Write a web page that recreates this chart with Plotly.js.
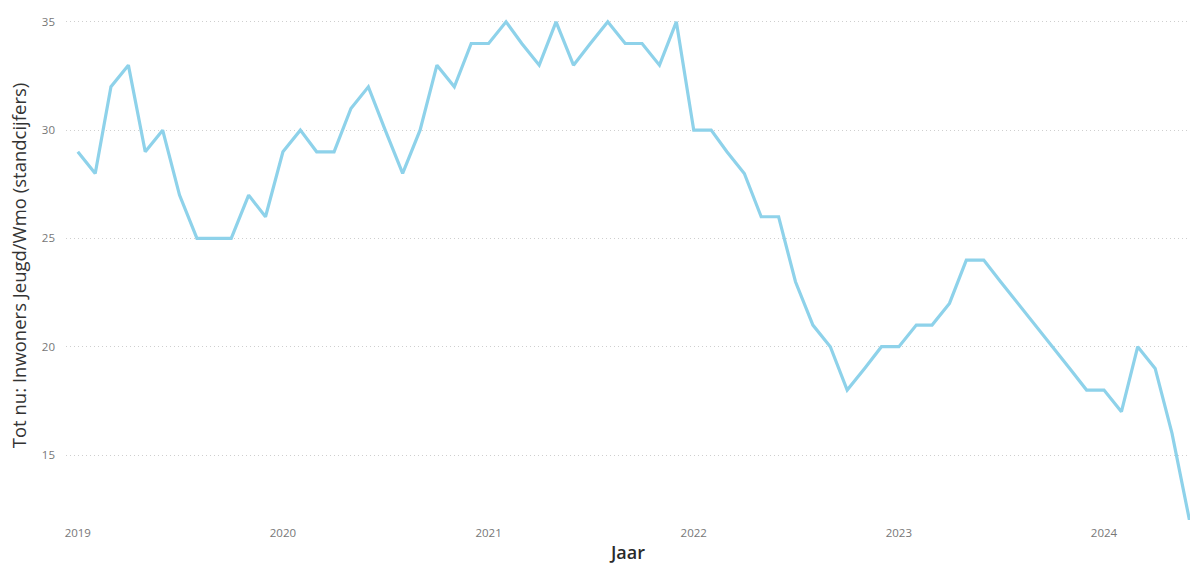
<!DOCTYPE html>
<html>
<head>
<meta charset="utf-8">
<script src="https://cdn.plot.ly/plotly-3.0.1.min.js"></script>
<style>
html,body{margin:0;padding:0;background:#fff;}
#chart{width:1190px;height:564px;}
</style>
</head>
<body>
<div id="chart"></div>
<script>
// Months: January 2019 .. June 2024
const months = [
  "2019-01-01","2019-02-01","2019-03-01","2019-04-01","2019-05-01","2019-06-01","2019-07-01","2019-08-01","2019-09-01","2019-10-01","2019-11-01","2019-12-01",
  "2020-01-01","2020-02-01","2020-03-01","2020-04-01","2020-05-01","2020-06-01","2020-07-01","2020-08-01","2020-09-01","2020-10-01","2020-11-01","2020-12-01",
  "2021-01-01","2021-02-01","2021-03-01","2021-04-01","2021-05-01","2021-06-01","2021-07-01","2021-08-01","2021-09-01","2021-10-01","2021-11-01","2021-12-01",
  "2022-01-01","2022-02-01","2022-03-01","2022-04-01","2022-05-01","2022-06-01","2022-07-01","2022-08-01","2022-09-01","2022-10-01","2022-11-01","2022-12-01",
  "2023-01-01","2023-02-01","2023-03-01","2023-04-01","2023-05-01","2023-06-01","2023-07-01","2023-08-01","2023-09-01","2023-10-01","2023-11-01","2023-12-01",
  "2024-01-01","2024-02-01","2024-03-01","2024-04-01","2024-05-01","2024-06-01"
];
const inwoners = [
  29,28,32,33,29,30,27,25,25,25,27,26,
  29,30,29,29,31,32,30,28,30,33,32,34,
  34,35,34,33,35,33,34,35,34,34,33,35,
  30,30,29,28,26,26,23,21,20,18,19,20,
  20,21,21,22,24,24,23,22,21,20,19,18,
  18,17,20,19,16,12
];
const yearTickVals = ["2019-01-01","2020-01-01","2021-01-01","2022-01-01","2023-01-01","2024-01-01"];
const yearTickText = ["2019","2020","2021","2022","2023","2024"];
const yTickVals = [15,20,25,30,35];

const trace = {
  x: months,
  y: inwoners,
  type: "scatter",
  mode: "lines",
  line: {color: "#8ED2EA", width: 3.2},
  hoverinfo: "x+y"
};

const layout = {
  width: 1190,
  height: 564,
  margin: {l: 66, r: 0, t: 11, b: 44},
  paper_bgcolor: "#ffffff",
  plot_bgcolor: "#ffffff",
  showlegend: false,
  font: {family: "Segoe UI, 'Open Sans', 'Noto Sans', sans-serif", color: "#777777", size: 11},
  xaxis: {
    type: "date",
    range: ["2018-12-11", "2024-06-02"],
    tickvals: yearTickVals,
    ticktext: yearTickText,
    showgrid: false,
    zeroline: false,
    showline: false,
    ticks: "",
    ticklabelstandoff: 4,
    tickfont: {size: 11.5, color: "#777777"},
    title: {text: "Jaar", font: {size: 18, color: "#2a2a2a", family: "Segoe UI, 'Open Sans', sans-serif", weight: 600}, standoff: 16}
  },
  yaxis: {
    range: [12, 35.5],
    tickvals: yTickVals,
    showgrid: true,
    gridcolor: "#cfcfcf",
    griddash: "1px,3px",
    gridwidth: 1,
    zeroline: false,
    showline: false,
    ticks: "",
    ticklabelstandoff: 10,
    tickfont: {size: 11.5, color: "#777777"},
    title: {text: "Tot nu: Inwoners Jeugd/Wmo (standcijfers)", font: {size: 18.5, color: "#333333", family: "Segoe UI, 'Open Sans', sans-serif"}, standoff: 10}
  }
};

Plotly.newPlot("chart", [trace], layout, {displayModeBar: false, staticPlot: true});
</script>
</body>
</html>
